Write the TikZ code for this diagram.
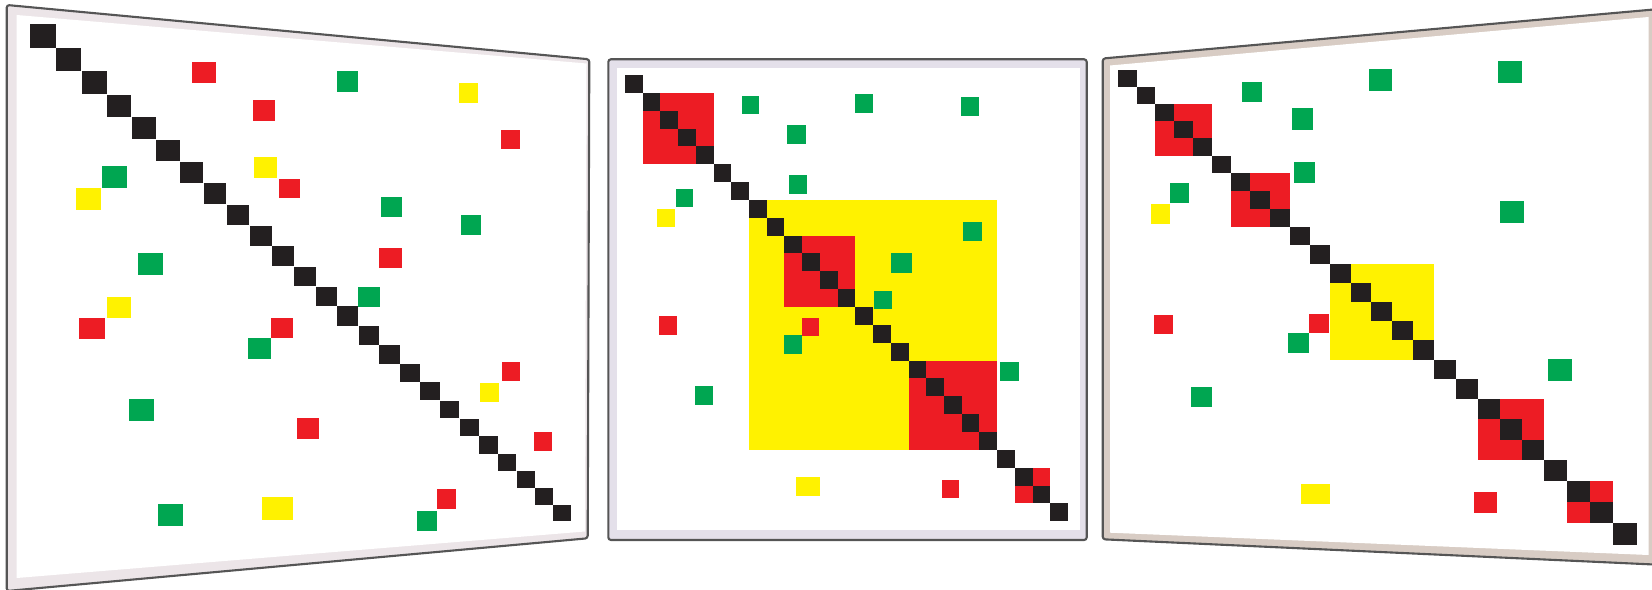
\documentclass[tikz,border=0pt]{standalone}
\usepackage{tikz}

\definecolor{framegray}{HTML}{555555}
\definecolor{leftband}{HTML}{ECE5E8}
\definecolor{midband}{HTML}{E4E0EA}
\definecolor{rightband}{HTML}{D8CCC4}
\definecolor{cellblack}{HTML}{231F20}
\definecolor{cellred}{HTML}{ED1C24}
\definecolor{cellgreen}{HTML}{00A651}
\definecolor{cellyellow}{HTML}{FFF200}

\tikzset{
  board/.style={draw=framegray, line width=1.2pt, rounded corners=1.5pt},
  diagcell/.style={fill=cellblack},
  redcell/.style={fill=cellred},
  greencell/.style={fill=cellgreen},
  yellowcell/.style={fill=cellyellow}
}

\begin{document}
\begin{tikzpicture}[x=0.02cm, y=-0.02cm,
  declare function={
    lx(\u)=30+26.26*\u/(1+0.0085*\u);
    ly(\u)=24+24.13*\u/(1+0.0085*\u);
    mx(\u)=625+17.72*\u;
    my(\u)=75+17.85*\u;
    rx(\u)=1118.3+18.23*\u/(1-0.00484*\u);
    ry(\u)=70+16.70*\u/(1-0.00484*\u);
  }]
    \useasboundingbox (0,0) rectangle (1652,590);
    \clip (0,0) rectangle (1652,590);

    % Left board: unordered matrix
    \filldraw[board, fill=leftband] (6.7,5) -- (589.3,59.3) -- (587.7,538.3) -- (6.7,591) -- cycle;
    \fill[white] (16.7,15) -- (586.5,63.5) -- (585,531.5) -- (16.7,578) -- cycle;
    \foreach \i in {0,...,24}
        \fill[diagcell] ({lx(\i)},{ly(\i)}) rectangle ({lx(\i+1)-0.3},{ly(\i+1)-0.3});
    \foreach \x/\y/\w/\h in {192.3/61.7/23.7/21.6, 252.7/100/22.3/21, 279.3/179/21/19.5,
        501/130/19/19.3, 379.3/247.7/22.4/20, 79.3/317.7/25.7/21.6, 270.7/318.3/22/20,
        297.3/418.3/21.7/20.7, 501.7/361.7/18.3/19, 534/431.7/17.7/19, 436.7/489/19/20}
        \fill[redcell] (\x,\y) rectangle ++(\w,\h);
    \foreach \x/\y/\w/\h in {101.7/165.7/25.6/22.6, 138.3/253.3/24.4/21.7, 336.7/70.7/21.6/21.6,
        381/197.3/20.7/20, 460.7/215/20/20, 358.3/287.5/21.7/19.8, 247.7/337.7/23/21.6,
        129/399.3/25/21.7, 158.3/504/24.4/22, 416.7/510.7/20/20}
        \fill[greencell] (\x,\y) rectangle ++(\w,\h);
    \foreach \x/\y/\w/\h in {254.3/157.3/22.4/20.4, 76/187.7/25/22.3, 459.3/83.3/19/19.4,
        107.3/296.7/23.4/21.6, 480/382.7/19.3/19, 261.7/497.3/31.6/22.7}
        \fill[yellowcell] (\x,\y) rectangle ++(\w,\h);

    % Middle board: nested blocks
    \filldraw[board, fill=midband] (608.3,59.3) rectangle (1086.7,540);
    \fill[white] (616.7,68.3) rectangle (1080,530);
    \fill[yellowcell] ({mx(7)},{my(7)}) rectangle ({mx(21)},{my(21)});
    \foreach \a/\b in {1/5, 9/13, 16/21, 22/24}
        \fill[redcell] ({mx(\a)},{my(\a)}) rectangle ({mx(\b)},{my(\b)});
    \foreach \i in {0,...,24}
        \fill[diagcell] ({mx(\i)},{my(\i)}) rectangle ({mx(\i+1)},{my(\i+1)});
    \foreach \x/\y/\w/\h in {659.3/316/18/19, 802.3/317.7/17/18.3, 942.3/480/17/18.3}
        \fill[redcell] (\x,\y) rectangle ++(\w,\h);
    \foreach \x/\y/\w/\h in {741.7/96/17.6/18.3, 855/94.3/18.3/18.4, 961/96.7/18.3/19,
        787.3/125.3/18.4/19, 789/175.3/18.3/19, 675.7/189.3/17.6/18, 962.7/221.7/19/19.3,
        891/253.3/21.3/20, 874/290.7/18/18.6, 784/335.3/18.3/19, 1000/361.7/18.7/19,
        695/386/18.3/19}
        \fill[greencell] (\x,\y) rectangle ++(\w,\h);
    \foreach \x/\y/\w/\h in {657.3/208.7/17.4/18, 795.7/477.3/24.3/18.4}
        \fill[yellowcell] (\x,\y) rectangle ++(\w,\h);

    % Right board: reordered blocks
    \filldraw[board, fill=rightband] (1102.7,58.5) -- (1656,9.3) -- (1656,564.6) -- (1102.7,539.3) -- cycle;
    \fill[white] (1110,65.5) -- (1648.5,17) -- (1648.5,555) -- (1110,532.7) -- cycle;
    \fill[yellowcell] ({rx(11)},{ry(11)}) rectangle ({rx(16)},{ry(16)});
    \foreach \a/\b in {2/5, 6/9, 18/21, 22/24}
        \fill[redcell] ({rx(\a)},{ry(\a)}) rectangle ({rx(\b)},{ry(\b)});
    \foreach \i in {0,...,24}
        \fill[diagcell] ({rx(\i)},{ry(\i)}) rectangle ({rx(\i+1)},{ry(\i+1)});
    \foreach \x/\y/\w/\h in {1154/315/18.7/19.3, 1309/314/20.3/19.3, 1474.3/491.7/22.4/21}
        \fill[redcell] (\x,\y) rectangle ++(\w,\h);
    \foreach \x/\y/\w/\h in {1241.7/81.7/20/20.6, 1292.3/108.3/21/21.7, 1294/162.3/21/21,
        1170/183.3/19.3/20, 1369.3/69/22.4/21.7, 1497.7/61/24/22.3, 1500/201/24/22.3,
        1288.3/333.3/21/20, 1191/386.7/20.7/20.6, 1547.7/359/24/22}
        \fill[greencell] (\x,\y) rectangle ++(\w,\h);
    \foreach \x/\y/\w/\h in {1151/204.3/19/19.7, 1301/484/29/20.3}
        \fill[yellowcell] (\x,\y) rectangle ++(\w,\h);
\end{tikzpicture}
\end{document}
